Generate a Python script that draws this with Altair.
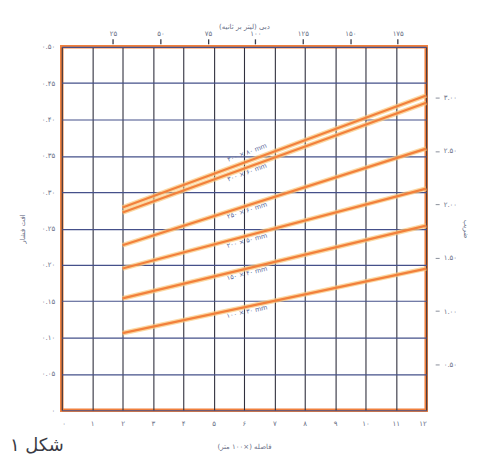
import math
import altair as alt
import pandas as pd

# ---------------- data ----------------
x_ticks = list(range(0, 13))
y_ticks = [0, 0.05, 0.10, 0.15, 0.20, 0.25, 0.30, 0.35, 0.40, 0.45, 0.50]
top_ticks = [25, 50, 75, 100, 125, 150, 175]
right_ticks = [0.5, 1.0, 1.5, 2.0, 2.5, 3.0]

series = ["s1", "s2", "s3", "s4", "s5", "s6"]
series_labels = ["۳۰۰ × ۸۰ mm", "۳۰۰ × ۶۰ mm", "۲۵۰ × ۶۰ mm", "۲۰۰ × ۵۰ mm", "۱۵۰ × ۴۰ mm", "۱۰۰ × ۳۰ mm"]
x_start = [2, 2, 2, 2, 2, 2]
x_end = [12, 12, 12, 12, 12, 12]
y_start = [0.279, 0.272, 0.227, 0.195, 0.154, 0.106]
y_end = [0.433, 0.423, 0.360, 0.305, 0.254, 0.195]

bottom_title = "فاصله (×۱۰۰ متر)"
top_title = "دبی (لیتر بر ثانیه)"
left_title = "افت فشار"
right_title = "ضریب"
figure_caption = "شکل ۱"

# ---------------- helpers ----------------
FA = str.maketrans("0123456789", "۰۱۲۳۴۵۶۷۸۹")


def fa(s):
    return str(s).translate(FA)


def label_expr(values, fmt, show):
    expr = "datum.label"
    for v in reversed(values):
        expr = f"datum.label == '{fmt(v)}' ? '{fa(show(v))}' : ({expr})"
    return expr


W, H = 366, 365
XD, YD = [0, 12], [0, 0.5]
TOPD = [-2, 190]
RIGHTD = [0.071, 3.476]
FONT = "DejaVu Sans"
TXT = "#6a6f86"
px_x = W / (XD[1] - XD[0])
px_y = H / (YD[1] - YD[0])

rows = []
for s, xs_, xe, ys_, ye in zip(series, x_start, x_end, y_start, y_end):
    rows.append({"series": s, "x": xs_, "y": ys_})
    rows.append({"series": s, "x": xe, "y": ye})
lines_df = pd.DataFrame(rows)

label_x = 6.1
label_offset_px = [9, -5, -5, -5, -5, -5]
lab_rows = []
for s, t, xs_, xe, ys_, ye, off in zip(series, series_labels, x_start, x_end, y_start, y_end, label_offset_px):
    slope = (ye - ys_) / (xe - xs_)
    ly = ys_ + slope * (label_x - xs_) + off / px_y
    ang = math.degrees(math.atan(slope * px_y / px_x))
    lab_rows.append({"series": s, "t": t, "x": label_x, "y": ly, "angle": 360 - ang})
labels_df = pd.DataFrame(lab_rows)

xs = alt.Scale(domain=XD, nice=False, zero=False)
ys = alt.Scale(domain=YD, nice=False, zero=False)

x_axis = alt.Axis(orient="bottom", values=x_ticks,
                  labelExpr=label_expr(x_ticks, lambda v: str(v), lambda v: str(v)),
                  grid=True, gridColor="#30303e", gridWidth=1.1, ticks=False, domain=False,
                  labelPadding=9, labelFontSize=7, labelColor=TXT, labelFont=FONT,
                  title=bottom_title, titleFontSize=7, titleFont=FONT, titleColor=TXT,
                  titleFontWeight="normal", titlePadding=16)
y_axis = alt.Axis(orient="left", values=y_ticks,
                  labelExpr=label_expr(y_ticks, lambda v: f"{v:.2f}",
                                       lambda v: "0" if v == 0 else f"{v:.2f}"),
                  format=".2f",
                  grid=True, gridColor="#45508a", gridWidth=1.2, ticks=False, domain=False,
                  labelPadding=7, labelFontSize=7, labelColor=TXT, labelFont=FONT,
                  title=left_title, titleFontSize=7, titleFont=FONT, titleColor=TXT,
                  titleFontWeight="normal", titlePadding=16)

X = alt.X("x:Q", scale=xs, axis=x_axis)
Y = alt.Y("y:Q", scale=ys, axis=y_axis)

glow = alt.Chart(lines_df).mark_line(color="#f9c77a", strokeWidth=4.8, opacity=0.7).encode(
    x=X, y=Y, detail="series:N")

lines = alt.Chart(lines_df).mark_line(color="#f2803c", strokeWidth=2.3).encode(
    x=X, y=Y, detail="series:N")

labels = alt.Chart(labels_df).mark_text(fontSize=6.5, font=FONT, color="#5a6a9a").encode(
    x=X, y=Y,
    text="t:N",
    angle=alt.Angle("angle:Q", scale=None),
)

main = alt.layer(glow, lines, labels)

top = alt.Chart(pd.DataFrame({"t": top_ticks})).mark_point(opacity=0).encode(
    x=alt.X("t:Q", scale=alt.Scale(domain=TOPD, nice=False, zero=False),
            axis=alt.Axis(orient="top", values=top_ticks,
                          labelExpr=label_expr(top_ticks, lambda v: str(v), lambda v: str(v)),
                          grid=False, domain=False, ticks=True, tickColor="#3a3a48", tickSize=5, tickWidth=1.3,
                          offset=3, labelPadding=2, labelFontSize=7, labelColor=TXT, labelFont=FONT,
                          title=top_title, titleFontSize=7, titleFont=FONT, titleColor=TXT,
                          titleFontWeight="normal", titlePadding=0)),
)

right = alt.Chart(pd.DataFrame({"r": right_ticks})).mark_point(opacity=0).encode(
    y=alt.Y("r:Q", scale=alt.Scale(domain=RIGHTD, nice=False, zero=False),
            axis=alt.Axis(orient="right", values=right_ticks,
                          format=".2f",
                          labelExpr=label_expr(right_ticks, lambda v: f"{v:.2f}", lambda v: f"{v:.2f}"),
                          grid=False, domain=False, ticks=True, tickColor="#8a8f9a", tickSize=4, tickWidth=1,
                          offset=9, labelPadding=4, labelFontSize=7, labelColor=TXT, labelFont=FONT,
                          title=right_title, titleFontSize=7, titleFont=FONT, titleColor=TXT,
                          titleFontWeight="normal", titlePadding=6)),
)

caption = alt.Chart(pd.DataFrame({"c": [figure_caption]})).mark_text(
    fontSize=18, font=FONT, color="#3a3a44", align="left", baseline="middle"
).encode(text="c:N", x=alt.value(-52), y=alt.value(401))

chart = alt.layer(main, top, right, caption).resolve_scale(
    x="independent", y="independent"
).properties(
    width=W, height=H,
    autosize=alt.AutoSizeParams(type="none"),
    padding={"left": 54, "top": 38, "right": 50, "bottom": 54},
    background="white",
).configure_view(stroke="#f0803e", strokeWidth=3.5)

chart.save("out.html", embed_options={"renderer": "svg", "actions": False})
